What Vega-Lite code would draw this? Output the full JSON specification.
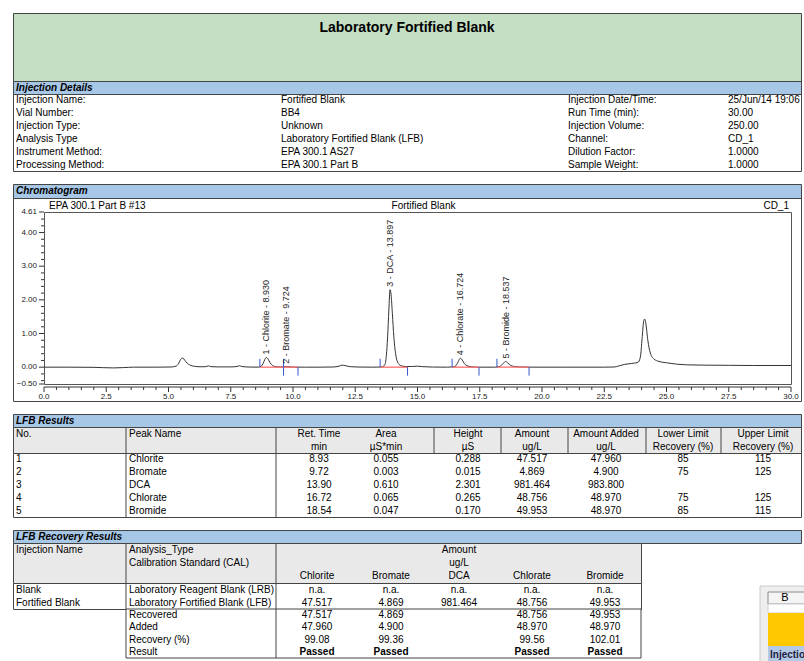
{
"$schema": "https://vega.github.io/schema/vega-lite/v6.json",
"background": "white",
"padding": {"left": 12, "top": 12, "right": 0, "bottom": 0},
"spacing": 0,
"bounds": "flush",
"config": {"view": {"stroke": null}, "text": {"font": "Liberation Sans", "fontSize": 10, "color": "#000", "baseline": "middle"}},
"datasets": {
 "details": [
  {"r":1,"c":0,"t":"Injection Name:"},{"r":1,"c":1,"t":"Fortified Blank"},{"r":1,"c":2,"t":"Injection Date/Time:"},{"r":1,"c":3,"t":"25/Jun/14 19:06"},
  {"r":2,"c":0,"t":"Vial Number:"},{"r":2,"c":1,"t":"BB4"},{"r":2,"c":2,"t":"Run Time (min):"},{"r":2,"c":3,"t":"30.00"},
  {"r":3,"c":0,"t":"Injection Type:"},{"r":3,"c":1,"t":"Unknown"},{"r":3,"c":2,"t":"Injection Volume:"},{"r":3,"c":3,"t":"250.00"},
  {"r":4,"c":0,"t":"Analysis Type"},{"r":4,"c":1,"t":"Laboratory Fortified Blank (LFB)"},{"r":4,"c":2,"t":"Channel:"},{"r":4,"c":3,"t":"CD_1"},
  {"r":5,"c":0,"t":"Instrument Method:"},{"r":5,"c":1,"t":"EPA 300.1 AS27"},{"r":5,"c":2,"t":"Dilution Factor:"},{"r":5,"c":3,"t":"1.0000"},
  {"r":6,"c":0,"t":"Processing Method:"},{"r":6,"c":1,"t":"EPA 300.1 Part B"},{"r":6,"c":2,"t":"Sample Weight:"},{"r":6,"c":3,"t":"1.0000"}
 ],
 "peaks": [
  {"no":1,"name":"Chlorite","ret":8.930,"area":0.055,"height":0.288,"amount":47.517,"added":47.960,"lo":85,"hi":115,"start":8.67,"end":9.62,"label":"1 - Chlorite - 8.930"},
  {"no":2,"name":"Bromate","ret":9.724,"area":0.003,"height":0.015,"amount":4.869,"added":4.900,"lo":75,"hi":125,"start":9.62,"end":10.2,"label":"2 - Bromate - 9.724"},
  {"no":3,"name":"DCA","ret":13.897,"area":0.610,"height":2.301,"amount":981.464,"added":983.800,"start":13.5,"end":14.6,"label":"3 - DCA - 13.897"},
  {"no":4,"name":"Chlorate","ret":16.724,"area":0.065,"height":0.265,"amount":48.756,"added":48.970,"lo":75,"hi":125,"start":16.39,"end":17.47,"label":"4 - Chlorate - 16.724"},
  {"no":5,"name":"Bromide","ret":18.537,"area":0.047,"height":0.170,"amount":49.953,"added":48.970,"lo":85,"hi":115,"start":18.19,"end":19.48,"label":"5 - Bromide - 18.537"}
 ],
 "xMajor": [{"v":0},{"v":2.5},{"v":5},{"v":7.5},{"v":10},{"v":12.5},{"v":15},{"v":17.5},{"v":20},{"v":22.5},{"v":25},{"v":27.5},{"v":30}],
 "xMinor": [{"v":0.5},{"v":1},{"v":1.5},{"v":2},{"v":3},{"v":3.5},{"v":4},{"v":4.5},{"v":5.5},{"v":6},{"v":6.5},{"v":7},{"v":8},{"v":8.5},{"v":9},{"v":9.5},{"v":10.5},{"v":11},{"v":11.5},{"v":12},{"v":13},{"v":13.5},{"v":14},{"v":14.5},{"v":15.5},{"v":16},{"v":16.5},{"v":17},{"v":18},{"v":18.5},{"v":19},{"v":19.5},{"v":20.5},{"v":21},{"v":21.5},{"v":22},{"v":23},{"v":23.5},{"v":24},{"v":24.5},{"v":25.5},{"v":26},{"v":26.5},{"v":27},{"v":28},{"v":28.5},{"v":29},{"v":29.5}],
 "yMajor": [{"v":-0.5},{"v":0},{"v":1},{"v":2},{"v":3},{"v":4},{"v":4.61}],
 "yMinor": [{"v":-0.4},{"v":-0.2},{"v":0.2},{"v":0.4},{"v":0.6},{"v":0.8},{"v":1.2},{"v":1.4},{"v":1.6},{"v":1.8},{"v":2.2},{"v":2.4},{"v":2.6},{"v":2.8},{"v":3.2},{"v":3.4},{"v":3.6},{"v":3.8},{"v":4.2},{"v":4.4}],
 "chrom": [
  {"t":0,"v":0},{"t":1,"v":0},{"t":2,"v":-0.005},{"t":2.4,"v":-0.015},{"t":2.8,"v":-0.022},{"t":3.2,"v":-0.012},{"t":3.6,"v":0},{"t":4.5,"v":0},
  {"t":5.1,"v":0.005},{"t":5.3,"v":0.03},{"t":5.4,"v":0.1},{"t":5.48,"v":0.22},{"t":5.55,"v":0.27},{"t":5.62,"v":0.24},{"t":5.7,"v":0.16},{"t":5.8,"v":0.09},{"t":5.9,"v":0.05},{"t":6.05,"v":0.025},{"t":6.3,"v":0.012},
  {"t":6.5,"v":0.015},{"t":6.6,"v":0.04},{"t":6.7,"v":0.015},{"t":7.0,"v":0.008},{"t":7.5,"v":0.008},{"t":7.75,"v":0.02},{"t":7.85,"v":0.042},{"t":7.95,"v":0.02},{"t":8.2,"v":0.005},
  {"t":8.6,"v":0},{"t":8.72,"v":0.03},{"t":8.8,"v":0.11},{"t":8.87,"v":0.23},{"t":8.93,"v":0.288},{"t":9.0,"v":0.24},{"t":9.08,"v":0.13},{"t":9.18,"v":0.05},{"t":9.3,"v":0.015},{"t":9.5,"v":0.005},
  {"t":9.64,"v":0.012},{"t":9.724,"v":0.018},{"t":9.8,"v":0.01},{"t":10.0,"v":0.002},{"t":10.5,"v":0},{"t":11.0,"v":0},{"t":11.6,"v":0.005},{"t":11.85,"v":0.03},{"t":11.97,"v":0.06},{"t":12.1,"v":0.045},{"t":12.3,"v":0.015},{"t":12.6,"v":0.004},
  {"t":13.2,"v":0},{"t":13.55,"v":0.005},{"t":13.68,"v":0.06},{"t":13.75,"v":0.35},{"t":13.8,"v":0.9},{"t":13.85,"v":1.7},{"t":13.897,"v":2.301},{"t":13.94,"v":2.15},{"t":13.99,"v":1.6},{"t":14.05,"v":0.9},{"t":14.12,"v":0.4},{"t":14.2,"v":0.15},{"t":14.32,"v":0.05},{"t":14.5,"v":0.02},
  {"t":14.8,"v":0.02},{"t":15.0,"v":0.03},{"t":15.2,"v":0.015},{"t":15.6,"v":0.004},{"t":16.2,"v":0},{"t":16.45,"v":0.01},{"t":16.55,"v":0.05},{"t":16.63,"v":0.16},{"t":16.724,"v":0.265},{"t":16.8,"v":0.21},{"t":16.88,"v":0.11},{"t":16.98,"v":0.045},{"t":17.15,"v":0.012},{"t":17.5,"v":0},
  {"t":18.1,"v":0},{"t":18.3,"v":0.02},{"t":18.42,"v":0.09},{"t":18.537,"v":0.17},{"t":18.63,"v":0.12},{"t":18.75,"v":0.05},{"t":18.9,"v":0.02},{"t":19.2,"v":0.005},{"t":19.6,"v":0},
  {"t":21.0,"v":0},{"t":22.5,"v":0},{"t":22.9,"v":0.005},{"t":23.1,"v":0.04},{"t":23.3,"v":0.08},{"t":23.6,"v":0.11},{"t":23.85,"v":0.14},{"t":23.95,"v":0.3},{"t":24.02,"v":0.85},{"t":24.08,"v":1.35},{"t":24.12,"v":1.43},{"t":24.17,"v":1.3},{"t":24.25,"v":0.8},{"t":24.35,"v":0.42},{"t":24.5,"v":0.24},{"t":24.7,"v":0.17},
  {"t":25.0,"v":0.13},{"t":25.4,"v":0.09},{"t":25.8,"v":0.07},{"t":26.5,"v":0.06},{"t":27.5,"v":0.055},{"t":28.5,"v":0.05},{"t":30.0,"v":0.05}
 ],
 "lfbHead": [
  {"r":"a","c":0,"t":"No."},{"r":"a","c":1,"t":"Peak Name"},{"r":"a","c":2,"t":"Ret. Time"},{"r":"a","c":3,"t":"Area"},{"r":"a","c":4,"t":"Height"},{"r":"a","c":5,"t":"Amount"},{"r":"a","c":6,"t":"Amount Added"},{"r":"a","c":7,"t":"Lower Limit"},{"r":"a","c":8,"t":"Upper Limit"},
  {"r":"b","c":2,"t":"min"},{"r":"b","c":3,"t":"µS*min"},{"r":"b","c":4,"t":"µS"},{"r":"b","c":5,"t":"ug/L"},{"r":"b","c":6,"t":"ug/L"},{"r":"b","c":7,"t":"Recovery (%)"},{"r":"b","c":8,"t":"Recovery (%)"}
 ],
 "recHead": [
  {"r":"a","c":0,"t":"Injection Name"},{"r":"a","c":1,"t":"Analysis_Type"},{"r":"b","c":1,"t":"Calibration Standard (CAL)"},{"r":"a","c":4,"t":"Amount"},{"r":"b","c":4,"t":"ug/L"},
  {"r":"c","c":2,"t":"Chlorite"},{"r":"c","c":3,"t":"Bromate"},{"r":"c","c":4,"t":"DCA"},{"r":"c","c":5,"t":"Chlorate"},{"r":"c","c":6,"t":"Bromide"}
 ],
 "recB1": [
  {"r":1,"c":0,"t":"Blank"},{"r":1,"c":1,"t":"Laboratory Reagent Blank (LRB)"},{"r":1,"c":2,"t":"n.a."},{"r":1,"c":3,"t":"n.a."},{"r":1,"c":4,"t":"n.a."},{"r":1,"c":5,"t":"n.a."},{"r":1,"c":6,"t":"n.a."},
  {"r":2,"c":0,"t":"Fortified Blank"},{"r":2,"c":1,"t":"Laboratory Fortified Blank (LFB)"},{"r":2,"c":2,"t":"47.517"},{"r":2,"c":3,"t":"4.869"},{"r":2,"c":4,"t":"981.464"},{"r":2,"c":5,"t":"48.756"},{"r":2,"c":6,"t":"49.953"}
 ],
 "recB2": [
  {"r":1,"c":1,"t":"Recovered"},{"r":1,"c":2,"t":"47.517"},{"r":1,"c":3,"t":"4.869"},{"r":1,"c":5,"t":"48.756"},{"r":1,"c":6,"t":"49.953"},
  {"r":2,"c":1,"t":"Added"},{"r":2,"c":2,"t":"47.960"},{"r":2,"c":3,"t":"4.900"},{"r":2,"c":5,"t":"48.970"},{"r":2,"c":6,"t":"48.970"},
  {"r":3,"c":1,"t":"Recovery (%)"},{"r":3,"c":2,"t":"99.08"},{"r":3,"c":3,"t":"99.36"},{"r":3,"c":5,"t":"99.56"},{"r":3,"c":6,"t":"102.01"},
  {"r":4,"c":1,"t":"Result"},{"r":4,"c":2,"t":"Passed"},{"r":4,"c":3,"t":"Passed"},{"r":4,"c":5,"t":"Passed"},{"r":4,"c":6,"t":"Passed"}
 ]
},
"vconcat": [
  {"width": 788, "height": 68, "view": {"fill": "#c4dfc4", "stroke": "#444"},
   "data": {"values": [{"t": "Laboratory Fortified Blank"}]},
   "mark": {"type": "text", "fontSize": 14, "fontWeight": "bold", "dy": -19},
   "encoding": {"text": {"field": "t"}}},
  {"width": 788, "height": 13, "view": {"fill": "#a7c7e7", "stroke": "#444"},
   "data": {"values": [{"t": "Injection Details"}]},
   "mark": {"type": "text", "fontStyle": "italic", "fontWeight": "bold", "align": "left"},
   "encoding": {"x": {"datum": 0, "type": "quantitative", "scale": {"domain": [0,1,2,3], "range": [3,268,555,715]}, "axis": null}, "text": {"field": "t"}}},
  {"width": 788, "height": 77, "view": {"fill": "white", "stroke": "#444"},
   "data": {"name": "details"},
   "mark": {"type": "text", "align": "left"},
   "encoding": {"x": {"field": "c", "type": "quantitative", "scale": {"domain": [0,1,2,3], "range": [3,268,555,715]}, "axis": null},
    "y": {"field": "r", "type": "ordinal", "scale": {"paddingInner": 0, "paddingOuter": 0}, "axis": null},
    "text": {"field": "t"}}},
  {"width": 788, "height": 13, "data": {"values": []}, "mark": "text", "encoding": {}},
  {"width": 788, "height": 14, "view": {"fill": "#a7c7e7", "stroke": "#444"},
   "data": {"values": [{"t": "Chromatogram"}]},
   "mark": {"type": "text", "fontStyle": "italic", "fontWeight": "bold", "align": "left"},
   "encoding": {"x": {"datum": 0, "type": "quantitative", "scale": {"domain": [0,1,2,3], "range": [3,268,555,715]}, "axis": null}, "text": {"field": "t"}}},
  {"vconcat": [
    {"width": 788, "height": 203, "view": {"fill": "white", "stroke": "#444"}, "data": {"values": []}, "mark": "text", "encoding": {}}
  ], "spacing": 0, "bounds": "flush"},
  {"width": 788, "height": 14, "data": {"values": []}, "mark": "text", "encoding": {}},
  {"hconcat": [
    {"width": 31, "height": 172, "data": {"values": []}, "mark": "text", "encoding": {}},
    {"width": 747, "height": 172, "view": {"stroke": "#555"},
     "layer": [
      {"data": {"name": "chrom"}, "mark": {"type": "line", "color": "#333", "strokeWidth": 1, "interpolate": "monotone"},
       "encoding": {
        "x": {"field": "t", "type": "quantitative", "scale": {"domain": [0, 30], "nice": false, "zero": false}, "axis": null},
        "y": {"field": "v", "type": "quantitative", "scale": {"domain": [-0.5, 4.61], "nice": false, "zero": false}, "axis": null}}},
      {"data": {"values": [{"guide": "x axis line"}]}, "mark": {"type": "rule", "color": "#333", "yOffset": 3},
       "encoding": {"x": {"datum": 0, "type": "quantitative", "axis": null}, "x2": {"datum": 30}, "y": {"datum": -0.5, "type": "quantitative", "axis": null}}},
      {"data": {"name": "xMajor"}, "mark": {"type": "rule", "color": "#333", "yOffset": 3, "y2Offset": 8},
       "encoding": {"x": {"field": "v", "type": "quantitative", "axis": null}, "y": {"datum": -0.5, "type": "quantitative", "axis": null}, "y2": {"datum": -0.5}}},
      {"data": {"name": "xMinor"}, "mark": {"type": "rule", "color": "#333", "yOffset": 3, "y2Offset": 6},
       "encoding": {"x": {"field": "v", "type": "quantitative", "axis": null}, "y": {"datum": -0.5, "type": "quantitative", "axis": null}, "y2": {"datum": -0.5}}},
      {"data": {"name": "xMajor"}, "mark": {"type": "text", "fontSize": 8, "color": "#222", "baseline": "top", "yOffset": 9},
       "encoding": {"x": {"field": "v", "type": "quantitative", "axis": null}, "y": {"datum": -0.5, "type": "quantitative", "axis": null}, "text": {"field": "v", "type": "quantitative", "format": ".1f"}}},
      {"data": {"name": "yMajor"}, "mark": {"type": "rule", "color": "#333", "xOffset": -5},
       "encoding": {"x": {"datum": 0, "type": "quantitative", "axis": null}, "x2": {"datum": 0}, "y": {"field": "v", "type": "quantitative", "axis": null}}},
      {"data": {"name": "yMinor"}, "mark": {"type": "rule", "color": "#333", "xOffset": -3},
       "encoding": {"x": {"datum": 0, "type": "quantitative", "axis": null}, "x2": {"datum": 0}, "y": {"field": "v", "type": "quantitative", "axis": null}}},
      {"data": {"name": "yMajor"}, "mark": {"type": "text", "fontSize": 8, "color": "#222", "align": "right", "baseline": "middle", "xOffset": -7},
       "encoding": {"x": {"datum": 0, "type": "quantitative", "axis": null}, "y": {"field": "v", "type": "quantitative", "axis": null}, "text": {"field": "v", "type": "quantitative", "format": ".2f"}}},
      {"data": {"name": "peaks"}, "mark": {"type": "rule", "color": "#ff6b6b", "strokeWidth": 1.3},
       "encoding": {"x": {"field": "start", "type": "quantitative", "axis": null}, "x2": {"field": "end"}, "y": {"datum": 0, "type": "quantitative", "axis": null}}},
      {"data": {"name": "peaks"}, "mark": {"type": "rule", "color": "#3355cc", "strokeWidth": 1},
       "encoding": {"x": {"field": "start", "type": "quantitative", "axis": null}, "y": {"datum": 0, "type": "quantitative", "axis": null}, "y2": {"datum": 0.25}}},
      {"data": {"name": "peaks"}, "mark": {"type": "rule", "color": "#3355cc", "strokeWidth": 1},
       "encoding": {"x": {"field": "end", "type": "quantitative", "axis": null}, "y": {"datum": 0, "type": "quantitative", "axis": null}, "y2": {"datum": -0.25}}},
      {"data": {"name": "peaks"}, "mark": {"type": "text", "angle": 270, "align": "left", "baseline": "middle", "dx": 3, "fontSize": 9, "color": "#222"},
       "encoding": {"x": {"field": "ret", "type": "quantitative", "axis": null}, "y": {"field": "height", "type": "quantitative", "axis": null}, "text": {"field": "label"}}},
      {"data": {"values": [{"t": "EPA 300.1 Part B #13"}]}, "mark": {"type": "text", "align": "left", "baseline": "bottom", "dx": 5, "dy": -1},
       "encoding": {"x": {"datum": 0, "type": "quantitative", "axis": null}, "y": {"datum": 4.61, "type": "quantitative", "axis": null}, "text": {"field": "t"}}},
      {"data": {"values": [{"t": "Fortified Blank"}]}, "mark": {"type": "text", "align": "center", "baseline": "bottom", "dx": 6, "dy": -1},
       "encoding": {"x": {"datum": 15, "type": "quantitative", "axis": null}, "y": {"datum": 4.61, "type": "quantitative", "axis": null}, "text": {"field": "t"}}},
      {"data": {"values": [{"t": "CD_1"}]}, "mark": {"type": "text", "align": "right", "baseline": "bottom", "dx": -2, "dy": -1},
       "encoding": {"x": {"datum": 30, "type": "quantitative", "axis": null}, "y": {"datum": 4.61, "type": "quantitative", "axis": null}, "text": {"field": "t"}}}
     ]}
  ], "spacing": 0, "bounds": "flush"},
  {"width": 788, "height": 202, "data": {"values": []}, "mark": "text", "encoding": {}},
  {"width": 788, "height": 13, "view": {"fill": "#a7c7e7", "stroke": "#444"},
   "data": {"values": [{"t": "LFB Results"}]},
   "mark": {"type": "text", "fontStyle": "italic", "fontWeight": "bold", "align": "left"},
   "encoding": {"x": {"datum": 0, "type": "quantitative", "scale": {"domain": [0,1,2,3,4,5,6,7,8], "range": [3,116,306,373,455,519,593,670,750]}, "axis": null}, "text": {"field": "t"}}},
  {"width": 788, "height": 26, "view": {"fill": "#e9e9e9", "stroke": "#444"},
   "layer": [
    {"data": {"values": [{"e":1},{"e":2},{"e":4},{"e":5},{"e":6},{"e":7},{"e":8}]}, "mark": {"type": "rule", "color": "#444"},
     "encoding": {"x": {"field": "e", "type": "quantitative", "scale": {"domain": [0,1,2,3,4,5,6,7,8,9], "range": [0,113,263,343,421,488,555,633,708,788]}, "axis": null}}},
    {"data": {"name": "lfbHead"}, "transform": [{"filter": "datum.c < 2"}], "mark": {"type": "text", "align": "left"},
     "encoding": {"x": {"field": "c", "type": "quantitative", "scale": {"domain": [0,1,2,3,4,5,6,7,8], "range": [3,116,306,373,455,519,593,670,750]}, "axis": null},
      "y": {"field": "r", "type": "ordinal", "scale": {"domain": ["a","b"], "paddingInner": 0, "paddingOuter": 0}, "axis": null}, "text": {"field": "t"}}},
    {"data": {"name": "lfbHead"}, "transform": [{"filter": "datum.c >= 2"}], "mark": {"type": "text", "align": "center"},
     "encoding": {"x": {"field": "c", "type": "quantitative", "scale": {"domain": [0,1,2,3,4,5,6,7,8], "range": [3,116,306,373,455,519,593,670,750]}, "axis": null},
      "y": {"field": "r", "type": "ordinal", "axis": null}, "text": {"field": "t"}}}
   ],
   "resolve": {"scale": {"x": "independent"}}},
  {"width": 788, "height": 64, "view": {"fill": "white", "stroke": "#444"},
   "data": {"name": "peaks"},
   "layer": [
    {"data": {"values": [{"e":1},{"e":2}]}, "mark": {"type": "rule", "color": "#444"},
     "encoding": {"x": {"field": "e", "type": "quantitative", "scale": {"domain": [0,1,2,3,4,5,6,7,8,9], "range": [0,113,263,343,421,488,555,633,708,788]}, "axis": null}}},
    {"mark": {"type": "text", "align": "left"},
     "encoding": {"x": {"datum": 0, "type": "quantitative", "scale": {"domain": [0,1,2,3,4,5,6,7,8], "range": [3,116,306,373,455,519,593,670,750]}, "axis": null},
      "y": {"field": "no", "type": "ordinal", "scale": {"paddingInner": 0, "paddingOuter": 0}, "axis": null}, "text": {"field": "no", "type": "nominal"}}},
    {"mark": {"type": "text", "align": "left"},
     "encoding": {"x": {"datum": 1, "type": "quantitative", "scale": {"domain": [0,1,2,3,4,5,6,7,8], "range": [3,116,306,373,455,519,593,670,750]}, "axis": null},
      "y": {"field": "no", "type": "ordinal", "axis": null}, "text": {"field": "name", "type": "nominal"}}},
    {"mark": {"type": "text", "align": "center"},
     "encoding": {"x": {"datum": 2, "type": "quantitative", "scale": {"domain": [0,1,2,3,4,5,6,7,8], "range": [3,116,306,373,455,519,593,670,750]}, "axis": null},
      "y": {"field": "no", "type": "ordinal", "axis": null}, "text": {"field": "ret", "type": "quantitative", "format": ".2f"}}},
    {"mark": {"type": "text", "align": "center"},
     "encoding": {"x": {"datum": 3, "type": "quantitative", "scale": {"domain": [0,1,2,3,4,5,6,7,8], "range": [3,116,306,373,455,519,593,670,750]}, "axis": null},
      "y": {"field": "no", "type": "ordinal", "axis": null}, "text": {"field": "area", "type": "quantitative", "format": ".3f"}}},
    {"mark": {"type": "text", "align": "center"},
     "encoding": {"x": {"datum": 4, "type": "quantitative", "scale": {"domain": [0,1,2,3,4,5,6,7,8], "range": [3,116,306,373,455,519,593,670,750]}, "axis": null},
      "y": {"field": "no", "type": "ordinal", "axis": null}, "text": {"field": "height", "type": "quantitative", "format": ".3f"}}},
    {"mark": {"type": "text", "align": "center"},
     "encoding": {"x": {"datum": 5, "type": "quantitative", "scale": {"domain": [0,1,2,3,4,5,6,7,8], "range": [3,116,306,373,455,519,593,670,750]}, "axis": null},
      "y": {"field": "no", "type": "ordinal", "axis": null}, "text": {"field": "amount", "type": "quantitative", "format": ".3f"}}},
    {"mark": {"type": "text", "align": "center"},
     "encoding": {"x": {"datum": 6, "type": "quantitative", "scale": {"domain": [0,1,2,3,4,5,6,7,8], "range": [3,116,306,373,455,519,593,670,750]}, "axis": null},
      "y": {"field": "no", "type": "ordinal", "axis": null}, "text": {"field": "added", "type": "quantitative", "format": ".3f"}}},
    {"transform": [{"filter": "isValid(datum.lo)"}], "mark": {"type": "text", "align": "center"},
     "encoding": {"x": {"datum": 7, "type": "quantitative", "scale": {"domain": [0,1,2,3,4,5,6,7,8], "range": [3,116,306,373,455,519,593,670,750]}, "axis": null},
      "y": {"field": "no", "type": "ordinal", "axis": null}, "text": {"field": "lo", "type": "quantitative", "format": "d"}}},
    {"transform": [{"filter": "isValid(datum.hi)"}], "mark": {"type": "text", "align": "center"},
     "encoding": {"x": {"datum": 8, "type": "quantitative", "scale": {"domain": [0,1,2,3,4,5,6,7,8], "range": [3,116,306,373,455,519,593,670,750]}, "axis": null},
      "y": {"field": "no", "type": "ordinal", "axis": null}, "text": {"field": "hi", "type": "quantitative", "format": "d"}}}
   ],
   "resolve": {"scale": {"x": "independent"}}},
  {"width": 788, "height": 13, "data": {"values": []}, "mark": "text", "encoding": {}},
  {"width": 788, "height": 13, "view": {"fill": "#a7c7e7", "stroke": "#444"},
   "data": {"values": [{"t": "LFB Recovery Results"}]},
   "mark": {"type": "text", "fontStyle": "italic", "fontWeight": "bold", "align": "left"},
   "encoding": {"x": {"datum": 0, "type": "quantitative", "scale": {"domain": [0,1,2,3,4,5,6], "range": [3,116,304,378,446,519,592]}, "axis": null}, "text": {"field": "t"}}},
  {"hconcat": [
   {"vconcat": [
    {"width": 628, "height": 40, "view": {"fill": "#e9e9e9", "stroke": "#444"},
     "layer": [
      {"data": {"values": [{"e":1},{"e":2}]}, "mark": {"type": "rule", "color": "#444"},
       "encoding": {"x": {"field": "e", "type": "quantitative", "scale": {"domain": [0,1,2,3], "range": [0,113,263,628]}, "axis": null}}},
      {"data": {"name": "recHead"}, "transform": [{"filter": "datum.c < 2"}], "mark": {"type": "text", "align": "left"},
       "encoding": {"x": {"field": "c", "type": "quantitative", "scale": {"domain": [0,1,2,3,4,5,6], "range": [3,116,304,378,446,519,592]}, "axis": null},
        "y": {"field": "r", "type": "ordinal", "scale": {"domain": ["a","b","c"], "paddingInner": 0, "paddingOuter": 0}, "axis": null}, "text": {"field": "t"}}},
      {"data": {"name": "recHead"}, "transform": [{"filter": "datum.c >= 2"}], "mark": {"type": "text", "align": "center"},
       "encoding": {"x": {"field": "c", "type": "quantitative", "scale": {"domain": [0,1,2,3,4,5,6], "range": [3,116,304,378,446,519,592]}, "axis": null},
        "y": {"field": "r", "type": "ordinal", "axis": null}, "text": {"field": "t"}}}
     ],
     "resolve": {"scale": {"x": "independent"}}},
    {"width": 628, "height": 26, "view": {"fill": "white", "stroke": "#444"},
     "layer": [
      {"data": {"values": [{"e":1},{"e":2}]}, "mark": {"type": "rule", "color": "#444"},
       "encoding": {"x": {"field": "e", "type": "quantitative", "scale": {"domain": [0,1,2,3], "range": [0,113,263,628]}, "axis": null}}},
      {"data": {"name": "recB1"}, "transform": [{"filter": "datum.c < 2"}], "mark": {"type": "text", "align": "left"},
       "encoding": {"x": {"field": "c", "type": "quantitative", "scale": {"domain": [0,1,2,3,4,5,6], "range": [3,116,304,378,446,519,592]}, "axis": null},
        "y": {"field": "r", "type": "ordinal", "scale": {"paddingInner": 0, "paddingOuter": 0}, "axis": null}, "text": {"field": "t"}}},
      {"data": {"name": "recB1"}, "transform": [{"filter": "datum.c >= 2"}], "mark": {"type": "text", "align": "center"},
       "encoding": {"x": {"field": "c", "type": "quantitative", "scale": {"domain": [0,1,2,3,4,5,6], "range": [3,116,304,378,446,519,592]}, "axis": null},
        "y": {"field": "r", "type": "ordinal", "axis": null}, "text": {"field": "t"}}}
     ],
     "resolve": {"scale": {"x": "independent"}}},
    {"width": 628, "height": 49,
     "layer": [
      {"data": {"values": [{"box": "results"}]}, "mark": {"type": "rect", "fill": "white", "stroke": "#444", "strokeWidth": 1},
       "encoding": {"x": {"datum": 1, "type": "quantitative", "scale": {"domain": [0,1,2,3], "range": [0,113,263,628]}, "axis": null}, "x2": {"datum": 3}}},
      {"data": {"values": [{"e":2}]}, "mark": {"type": "rule", "color": "#444"},
       "encoding": {"x": {"field": "e", "type": "quantitative", "scale": {"domain": [0,1,2,3], "range": [0,113,263,628]}, "axis": null}}},
      {"data": {"name": "recB2"}, "transform": [{"filter": "datum.c < 2"}], "mark": {"type": "text", "align": "left"},
       "encoding": {"x": {"field": "c", "type": "quantitative", "scale": {"domain": [0,1,2,3,4,5,6], "range": [3,116,304,378,446,519,592]}, "axis": null},
        "y": {"field": "r", "type": "ordinal", "scale": {"paddingInner": 0, "paddingOuter": 0}, "axis": null}, "text": {"field": "t"}}},
      {"data": {"name": "recB2"}, "transform": [{"filter": "datum.c >= 2 && datum.t !== 'Passed'"}], "mark": {"type": "text", "align": "center"},
       "encoding": {"x": {"field": "c", "type": "quantitative", "scale": {"domain": [0,1,2,3,4,5,6], "range": [3,116,304,378,446,519,592]}, "axis": null},
        "y": {"field": "r", "type": "ordinal", "axis": null}, "text": {"field": "t"}}},
      {"data": {"name": "recB2"}, "transform": [{"filter": "datum.t === 'Passed'"}], "mark": {"type": "text", "align": "center", "fontWeight": "bold"},
       "encoding": {"x": {"field": "c", "type": "quantitative", "scale": {"domain": [0,1,2,3,4,5,6], "range": [3,116,304,378,446,519,592]}, "axis": null},
        "y": {"field": "r", "type": "ordinal", "axis": null}, "text": {"field": "t"}}}
     ],
     "resolve": {"scale": {"x": "independent"}}}
   ], "spacing": 0, "bounds": "flush"},
   {"width": 47, "height": 119,
    "layer": [
     {"data": {"values": [{"part": "sheet"}]}, "mark": {"type": "rect", "fill": "#eeeeee", "stroke": "#c8c8c8", "strokeWidth": 1},
      "encoding": {"x": {"datum": 0, "type": "quantitative", "scale": {"domain": [0,1,2], "range": [0,8,48]}, "axis": null}, "x2": {"datum": 2},
                   "y": {"datum": 0, "type": "quantitative", "scale": {"domain": [0,1,2,3,4,5], "range": [43,49,61,70,103,120]}, "axis": null}, "y2": {"datum": 5}}},
     {"data": {"values": [{"part": "column header"}]}, "mark": {"type": "rect", "fill": "#f4f4f4", "stroke": "#8a8a8a", "strokeWidth": 1},
      "encoding": {"x": {"datum": 1, "type": "quantitative", "axis": null}, "x2": {"datum": 2}, "y": {"datum": 1, "type": "quantitative", "axis": null}, "y2": {"datum": 2}}},
     {"data": {"values": [{"part": "row"}]}, "mark": {"type": "rect", "fill": "white", "stroke": "#d0d0d0", "strokeWidth": 1},
      "encoding": {"x": {"datum": 1, "type": "quantitative", "axis": null}, "x2": {"datum": 2}, "y": {"datum": 2, "type": "quantitative", "axis": null}, "y2": {"datum": 3}}},
     {"data": {"values": [{"part": "title band"}]}, "mark": {"type": "rect", "fill": "#ffc800"},
      "encoding": {"x": {"datum": 1, "type": "quantitative", "axis": null}, "x2": {"datum": 2}, "y": {"datum": 3, "type": "quantitative", "axis": null}, "y2": {"datum": 4}}},
     {"data": {"values": [{"part": "section band"}]}, "mark": {"type": "rect", "fill": "#b4c9e6"},
      "encoding": {"x": {"datum": 1, "type": "quantitative", "axis": null}, "x2": {"datum": 2}, "y": {"datum": 4, "type": "quantitative", "axis": null}, "y2": {"datum": 5}}},
     {"data": {"values": [{"t": "B"}]}, "mark": {"type": "text", "align": "center", "baseline": "middle", "fontSize": 11, "font": "Liberation Sans", "dx": -3},
      "encoding": {"x": {"datum": 1.5, "type": "quantitative", "axis": null}, "y": {"datum": 1.5, "type": "quantitative", "axis": null}, "text": {"field": "t"}}},
     {"data": {"values": [{"t": "Injectio"}]}, "mark": {"type": "text", "align": "left", "baseline": "middle", "fontSize": 10, "fontWeight": "bold", "color": "#1f1f3f", "dx": 2},
      "encoding": {"x": {"datum": 1, "type": "quantitative", "axis": null}, "y": {"datum": 4.5, "type": "quantitative", "axis": null}, "text": {"field": "t"}}}
    ]}
  ], "spacing": 117}
]
}
